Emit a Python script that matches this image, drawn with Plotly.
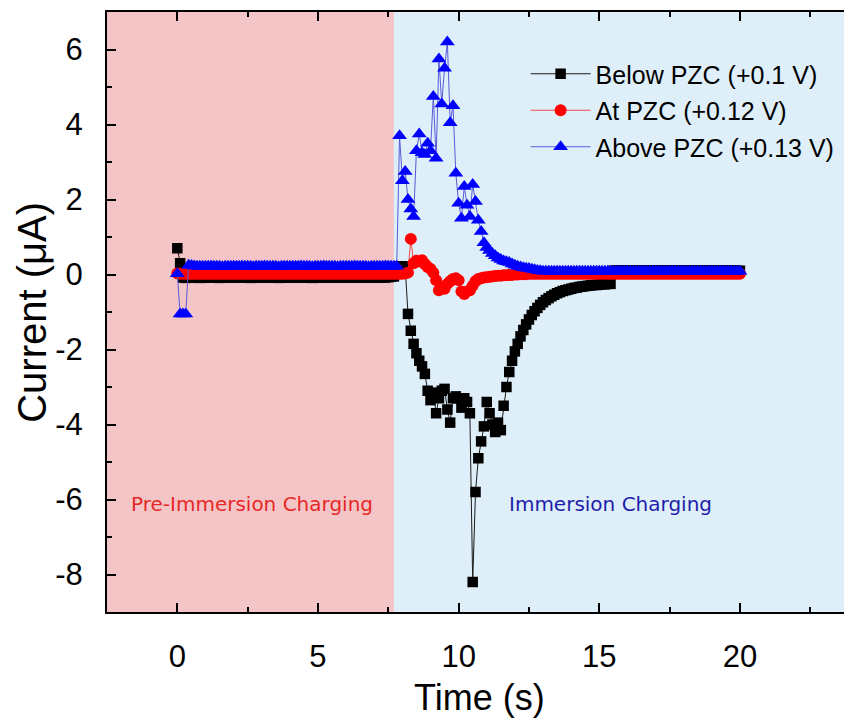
import plotly.graph_objects as go

# Sampling grid of the chronoamperometry record (s)
t = [round(0.1 * i, 1) for i in range(201)]

# Current (uA), one row per second of the record
below_pzc = [
    0.70, 0.30, -0.08, -0.09, -0.08, -0.08, -0.07, -0.08, -0.09, -0.08,
    -0.08, -0.08, -0.07, -0.08, -0.08, -0.09, -0.08, -0.08, -0.07, -0.08,
    -0.08, -0.08, -0.08, -0.07, -0.08, -0.08, -0.09, -0.08, -0.08, -0.08,
    -0.08, -0.07, -0.08, -0.08, -0.08, -0.08, -0.09, -0.08, -0.08, -0.07,
    -0.08, -0.08, -0.08, -0.08, -0.07, -0.08, -0.08, -0.08, -0.09, -0.08,
    -0.08, -0.08, -0.07, -0.08, -0.08, -0.08, -0.08, -0.07, -0.08, -0.08,
    -0.08, -0.08, -0.08, -0.07, -0.08, -0.08, -0.08, -0.08, -0.07, -0.08,
    -0.08, -0.08, -0.07, -0.08, -0.08, -0.07, -0.06, -0.05, 0.15, 0.22,
    0.22, 0.20, -1.05, -1.50, -1.85, -2.10, -2.30, -2.45, -2.65, -3.10,
    -3.35, -3.15, -3.70, -3.30, -3.10, -3.05, -3.60, -3.95, -3.30, -3.25,
    -3.30, -3.55, -3.30, -3.40, -3.70, -8.20, -5.80, -4.90, -4.45, -4.05,
    -3.40, -3.70, -4.00, -4.20, -3.95, -4.15, -3.50, -3.00, -2.60, -2.30,
    -2.05, -1.85, -1.65, -1.48, -1.33, -1.20, -1.08, -0.98, -0.89, -0.81,
    -0.74, -0.68, -0.63, -0.58, -0.54, -0.50, -0.47, -0.44, -0.42, -0.40,
    -0.38, -0.36, -0.35, -0.33, -0.32, -0.31, -0.30, -0.29, -0.28, -0.28,
    -0.27, -0.26, -0.26, -0.25, -0.25, 0.10, 0.10, 0.11, 0.10, 0.10,
    0.10, 0.10, 0.11, 0.10, 0.10, 0.10, 0.10, 0.11, 0.10, 0.10,
    0.10, 0.11, 0.10, 0.10, 0.10, 0.10, 0.11, 0.10, 0.10, 0.10,
    0.10, 0.10, 0.10, 0.11, 0.10, 0.10, 0.10, 0.10, 0.11, 0.10,
    0.10, 0.10, 0.11, 0.10, 0.10, 0.10, 0.10, 0.11, 0.10, 0.10,
    0.10,
]

at_pzc = [
    0.03, 0.02, 0.02, 0.02, 0.02, 0.02, 0.02, 0.02, 0.02, 0.02,
    0.02, 0.02, 0.02, 0.02, 0.02, 0.02, 0.02, 0.02, 0.02, 0.02,
    0.02, 0.02, 0.02, 0.02, 0.02, 0.02, 0.02, 0.02, 0.02, 0.02,
    0.02, 0.02, 0.02, 0.02, 0.02, 0.02, 0.02, 0.02, 0.02, 0.02,
    0.02, 0.02, 0.02, 0.02, 0.02, 0.02, 0.02, 0.02, 0.02, 0.02,
    0.02, 0.02, 0.02, 0.02, 0.02, 0.02, 0.02, 0.02, 0.02, 0.02,
    0.02, 0.02, 0.02, 0.02, 0.02, 0.02, 0.02, 0.02, 0.02, 0.02,
    0.02, 0.02, 0.02, 0.02, 0.02, 0.02, 0.02, 0.02, 0.02, 0.02,
    0.02, 0.03, 0.05, 0.95, 0.30, 0.37, 0.35, 0.38, 0.28, 0.20,
    0.15, 0.05, -0.15, -0.42, -0.35, -0.38, -0.25, -0.18, -0.12, -0.10,
    -0.15, -0.45, -0.52, -0.45, -0.42, -0.30, -0.18, -0.12, -0.10, -0.08,
    -0.07, -0.06, -0.05, -0.04, -0.03, -0.03, -0.02, -0.02, -0.01, -0.01,
    0.00, 0.00, 0.01, 0.01, 0.01, 0.02, 0.02, 0.02, 0.02, 0.02,
    0.02, 0.02, 0.02, 0.02, 0.02, 0.02, 0.02, 0.02, 0.02, 0.02,
    0.02, 0.02, 0.02, 0.02, 0.02, 0.02, 0.02, 0.02, 0.02, 0.02,
    0.02, 0.02, 0.02, 0.02, 0.02, 0.02, 0.02, 0.02, 0.02, 0.02,
    0.02, 0.02, 0.02, 0.02, 0.02, 0.02, 0.02, 0.02, 0.02, 0.02,
    0.02, 0.02, 0.02, 0.02, 0.02, 0.02, 0.02, 0.02, 0.02, 0.02,
    0.02, 0.02, 0.02, 0.02, 0.02, 0.02, 0.02, 0.02, 0.02, 0.02,
    0.02, 0.02, 0.02, 0.02, 0.02, 0.02, 0.02, 0.02, 0.02, 0.02,
    0.02,
]

above_pzc = [
    0.02, -1.05, -1.05, -1.05, 0.25, 0.24, 0.23, 0.22, 0.22, 0.22,
    0.22, 0.22, 0.23, 0.22, 0.22, 0.22, 0.21, 0.22, 0.22, 0.22,
    0.22, 0.22, 0.22, 0.23, 0.22, 0.22, 0.22, 0.21, 0.22, 0.22,
    0.22, 0.23, 0.22, 0.22, 0.22, 0.22, 0.21, 0.22, 0.22, 0.22,
    0.22, 0.22, 0.22, 0.22, 0.23, 0.22, 0.22, 0.22, 0.21, 0.22,
    0.22, 0.22, 0.23, 0.22, 0.22, 0.22, 0.22, 0.21, 0.22, 0.22,
    0.22, 0.22, 0.22, 0.23, 0.22, 0.22, 0.22, 0.22, 0.21, 0.22,
    0.22, 0.22, 0.22, 0.22, 0.23, 0.22, 0.22, 0.22, 0.22, 3.70,
    2.50, 2.75, 2.00, 1.75, 1.55, 3.30, 3.75, 3.25, 3.20, 3.50,
    3.30, 4.75, 3.10, 5.75, 4.55, 5.50, 6.20, 4.05, 4.50, 2.70,
    1.90, 1.50, 2.35, 1.85, 1.55, 2.40, 1.95, 1.45, 1.15, 0.85,
    0.72, 0.64, 0.56, 0.50, 0.44, 0.40, 0.36, 0.34, 0.32, 0.28,
    0.25, 0.22, 0.20, 0.18, 0.17, 0.16, 0.14, 0.13, 0.11, 0.10,
    0.09, 0.09, 0.09, 0.09, 0.09, 0.09, 0.09, 0.09, 0.09, 0.09,
    0.09, 0.09, 0.09, 0.09, 0.09, 0.09, 0.09, 0.09, 0.09, 0.09,
    0.09, 0.09, 0.09, 0.09, 0.09, 0.09, 0.09, 0.09, 0.09, 0.09,
    0.09, 0.09, 0.09, 0.09, 0.09, 0.09, 0.09, 0.09, 0.09, 0.09,
    0.09, 0.09, 0.09, 0.09, 0.09, 0.09, 0.09, 0.09, 0.09, 0.09,
    0.09, 0.09, 0.09, 0.09, 0.09, 0.09, 0.09, 0.09, 0.09, 0.09,
    0.09, 0.09, 0.09, 0.09, 0.09, 0.09, 0.09, 0.09, 0.09, 0.09,
    0.09,
]

series_names = ["Below PZC (+0.1 V)", "At PZC (+0.12 V)", "Above PZC (+0.13 V)"]

x_ticks = [0, 5, 10, 15, 20]
x_ticktext = ["0", "5", "10", "15", "20"]
y_ticks = [-8, -6, -4, -2, 0, 2, 4, 6]
y_ticktext = ["-8", "-6", "-4", "-2", "0", "2", "4", "6"]

# Time at which the electrode touches the electrolyte (s)
immersion_time = 7.7
x_range = [-2.5, 23.7]
y_range = [-9, 7]

styles = [
    dict(symbol="square", size=10.5, color="#000000", line="#1a1a1a"),
    dict(symbol="circle", size=12, color="#ff0000", line="#f04848"),
    dict(symbol="triangle-up", size=13, color="#0000ff", line="#5a5ad8"),
]

fig = go.Figure()
for name, ys, st, grp in zip(series_names, [below_pzc, at_pzc, above_pzc], styles, ["b", "a", "c"]):
    fig.add_trace(go.Scatter(
        x=t, y=ys, name=name, mode="lines+markers", legendgroup=grp,
        line=dict(color=st["line"], width=1),
        marker=dict(symbol=st["symbol"], size=st["size"], color=st["color"],
                    line=dict(width=0)),
    ))

# Shaded regimes
fig.add_shape(type="rect", xref="x", yref="paper", x0=x_range[0], x1=immersion_time,
              y0=0, y1=1, fillcolor="rgb(243,197,198)", line=dict(width=0), layer="below")
fig.add_shape(type="rect", xref="x", yref="paper", x0=immersion_time, x1=x_range[1],
              y0=0, y1=1, fillcolor="rgb(222,239,249)", line=dict(width=0), layer="below")

fig.add_annotation(x=2.65, y=-6.13, xref="x", yref="y", text="Pre-Immersion Charging",
                   showarrow=False, font=dict(family="DejaVu Sans", size=20, color="rgb(232,40,40)"))
fig.add_annotation(x=15.4, y=-6.13, xref="x", yref="y", text="Immersion Charging",
                   showarrow=False, font=dict(family="DejaVu Sans", size=20, color="rgb(30,30,170)"))

# Axis titles
fig.add_annotation(x=0.505, y=-0.143, xref="paper", yref="paper", text="Time (s)",
                   xanchor="center", yanchor="middle", showarrow=False,
                   font=dict(family="Liberation Sans", size=36, color="black"))
fig.add_annotation(x=-0.102, y=0.5, xref="paper", yref="paper", text="Current (\u03bcA)",
                   xanchor="center", yanchor="middle", textangle=-90, showarrow=False,
                   font=dict(family="Liberation Sans", size=40, color="black"))

axis_common = dict(
    showgrid=False, zeroline=False, showline=True, linecolor="black", linewidth=2,
    ticks="inside", ticklen=9, tickwidth=2, tickcolor="black",
    tickfont=dict(family="Liberation Sans", size=31, color="black"),
)

fig.update_xaxes(
    range=x_range, tickmode="array", tickvals=x_ticks, ticktext=x_ticktext,
    mirror="ticks", ticklabelstandoff=16,
    minor=dict(tickmode="array", tickvals=[2.5, 7.5, 12.5, 17.5, 22.5],
               ticks="inside", ticklen=5, tickwidth=2, tickcolor="black"),
    **axis_common,
)
fig.update_yaxes(
    range=y_range, tickmode="array", tickvals=y_ticks, ticktext=y_ticktext,
    ticklabelstandoff=16,
    minor=dict(tickmode="array", tickvals=[-7, -5, -3, -1, 1, 3, 5],
               ticks="inside", ticklen=5, tickwidth=2, tickcolor="black"),
    **axis_common,
)

fig.update_layout(
    width=844, height=721,
    margin=dict(l=107, r=0, t=12, b=109),
    paper_bgcolor="white", plot_bgcolor="white",
    showlegend=True,
    legend=dict(x=0.568, y=0.935, xanchor="left", yanchor="top",
                bgcolor="rgba(0,0,0,0)", traceorder="grouped", tracegroupgap=1,
                itemwidth=60,
                font=dict(family="Liberation Sans", size=25, color="black")),
)

fig.write_html("out.html")
